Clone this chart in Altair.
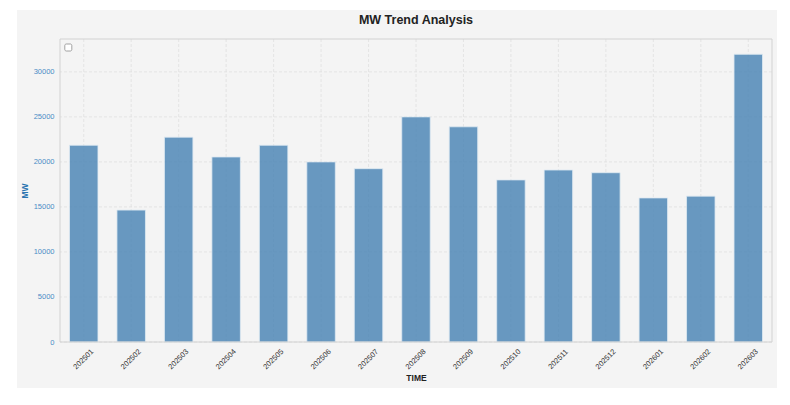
import altair as alt
import pandas as pd

months = ["202501", "202502", "202503", "202504", "202505", "202506", "202507",
          "202508", "202509", "202510", "202511", "202512", "202601", "202602", "202603"]
mw = [21850, 14650, 22750, 20550, 21850, 20000, 19250,
      25000, 23900, 18000, 19100, 18800, 16000, 16200, 31950]
y_ticks = [0, 5000, 10000, 15000, 20000, 25000, 30000]
title_text = ["MW Trend Analysis"]

W, H = 712, 303
FONT = "Liberation Sans"
BG = "#f4f4f4"

df = pd.DataFrame({"TIME": months, "MW": mw})
ticks_df = pd.DataFrame({"MW": y_ticks})

x_scale = alt.Scale(paddingInner=0.4, paddingOuter=0.2)
y_scale = alt.Scale(domain=[0, 33650], nice=False)

x_axis = alt.Axis(labelAngle=315, labelAlign="center", labelBaseline="middle",
                  labelPadding=17, ticks=False, tickSize=0, domain=False, grid=False,
                  labelFont=FONT, labelFontSize=7.5, labelColor="#333333",
                  titleFont=FONT, titleFontSize=8.5, titleFontWeight="bold",
                  titleColor="#222222", titleY=31, titleBaseline="top", zindex=1)
y_axis = alt.Axis(values=y_ticks, format="d", ticks=False, tickSize=0, domain=False,
                  grid=False, labelPadding=6, labelFont=FONT, labelFontSize=7.5,
                  labelColor="#4a8cc6", titleFont=FONT, titleFontSize=8.5,
                  titleFontWeight="bold", titleColor="#2a74b0", titlePadding=4,
                  zindex=1)

X = alt.X("TIME:N", sort=months, scale=x_scale, title="TIME", axis=x_axis)
Y = alt.Y("MW:Q", scale=y_scale, title="MW", axis=y_axis)

one = alt.Data(values=[{"a": 1}])

bg = alt.Chart(one).mark_rect(fill=BG).encode(
    x=alt.value(-43), x2=alt.value(717), y=alt.value(-29), y2=alt.value(349)
)

grid_x = alt.Chart(df).mark_rule(color="#e0e0e0", strokeWidth=0.8, strokeDash=[3, 2]).encode(x=X)
grid_y = alt.Chart(ticks_df).mark_rule(color="#e0e0e0", strokeWidth=0.8, strokeDash=[3, 2]).encode(y=Y)

bars = alt.Chart(df).mark_bar(color="steelblue", opacity=0.8, stroke="#dbe8f3", strokeWidth=0.8).encode(
    x=X, y=Y
)

border = alt.Chart(one).mark_rect(filled=False, stroke="#d2d2d2", strokeWidth=1).encode(
    x=alt.value(0), x2=alt.value(W), y=alt.value(0), y2=alt.value(H)
)

checkbox = alt.Chart(one).mark_rect(fill="white", stroke="#8a8a8a", strokeWidth=0.8,
                                    cornerRadius=1.5).encode(
    x=alt.value(4.8), x2=alt.value(11.8), y=alt.value(5), y2=alt.value(12)
)

title = alt.Chart(pd.DataFrame({"t": title_text})).mark_text(
    font=FONT, fontSize=12.5, fontWeight="bold", color="#222222",
    align="center", baseline="alphabetic"
).encode(x=alt.value(W / 2), y=alt.value(-14.7), text="t:N")

chart = alt.layer(bg, grid_x, grid_y, bars, border, checkbox, title).properties(
    width=W, height=H, background="white",
    padding={"left": 9, "top": 2, "right": 0, "bottom": 0}
).configure_view(strokeWidth=0)

chart.save("out.html", embed_options={"renderer": "svg", "actions": False})
